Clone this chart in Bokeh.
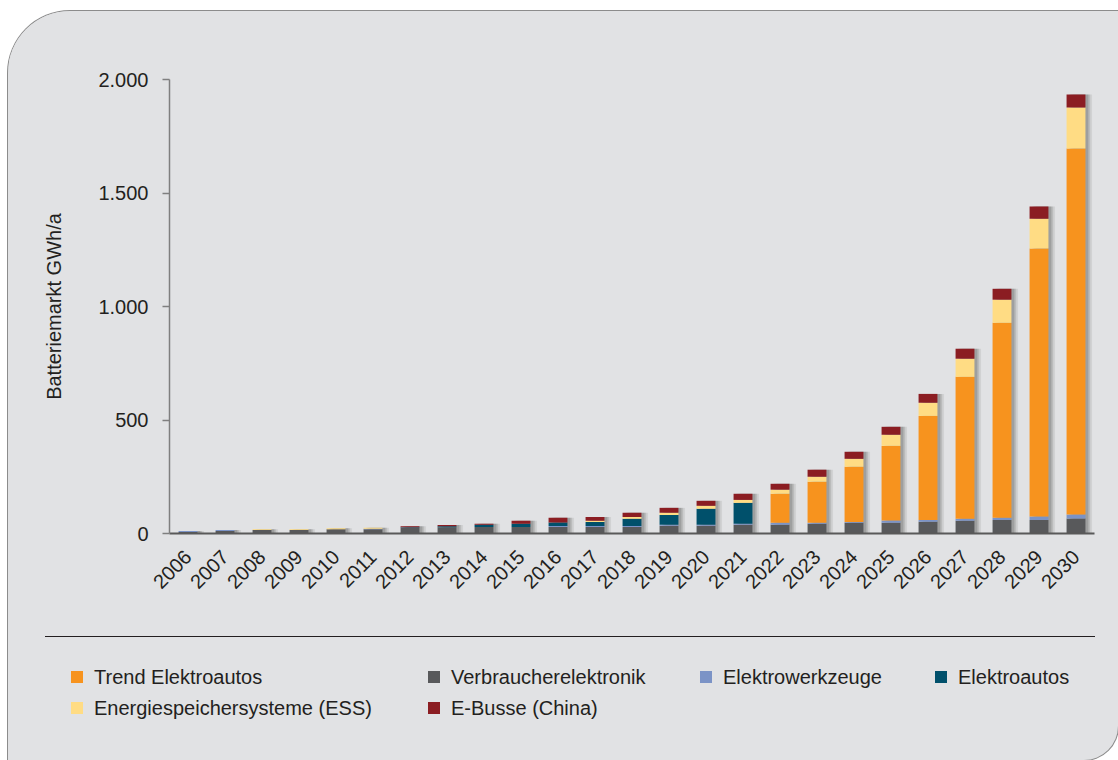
import math
from bokeh.plotting import figure
from bokeh.layouts import column
from bokeh.models import ColumnDataSource, FactorRange, Range1d, FixedTicker, Div
from bokeh.transform import dodge
from bokeh.embed import file_html
from bokeh.resources import INLINE

# ---------------- data (GWh/a) ----------------
years = [str(y) for y in range(2006, 2031)]
verbraucherelektronik = [7, 11, 15, 15, 19, 19, 25, 28, 29, 29, 29, 29, 29, 34, 34, 38, 38, 43, 47, 47, 52, 56, 60, 60, 66]
elektrowerkzeuge      = [4, 4, 0, 0, 0, 2, 0, 0, 0, 0, 4, 4, 4, 4, 4, 5, 9, 4, 4, 10, 8, 9, 9, 15, 18]
elektroautos          = [0, 0, 0, 0, 0, 0, 3, 4, 9, 14, 15, 18, 32, 44, 71, 92, 0, 0, 0, 0, 0, 0, 0, 0, 0]
trend_elektroautos    = [0, 0, 0, 0, 0, 0, 0, 0, 0, 0, 0, 0, 0, 0, 0, 0, 128, 181, 243, 329, 458, 625, 859, 1180, 1612]
ess                   = [0, 0, 4, 4, 4, 4, 0, 0, 0, 0, 0, 5, 8, 9, 13, 13, 18, 22, 35, 49, 58, 80, 102, 132, 181]
e_busse               = [0, 0, 0, 0, 0, 0, 4, 5, 5, 13, 21, 17, 18, 22, 22, 27, 26, 31, 31, 35, 39, 44, 48, 53, 57]

series_keys   = ["verbraucher", "werkzeuge", "autos", "trend", "ess", "busse"]
series_labels = ["Verbraucherelektronik", "Elektrowerkzeuge", "Elektroautos",
                 "Trend Elektroautos", "Energiespeichersysteme (ESS)", "E-Busse (China)"]
series_colors = ["#58595b", "#7b93c6", "#00506b", "#f7931e", "#ffdc84", "#8b1d22"]

y_ticks = [0, 500, 1000, 1500, 2000]
y_tick_labels = ["0", "500", "1.000", "1.500", "2.000"]
y_axis_title = "Batteriemarkt GWh/a"

# legend layout: columns of series keys
legend_columns = [["trend", "ess"], ["verbraucher", "busse"], ["werkzeuge"], ["autos"]]

# ---------------- build ----------------
totals = [sum(v) for v in zip(verbraucherelektronik, elektrowerkzeuge, elektroautos,
                              trend_elektroautos, ess, e_busse)]
source = ColumnDataSource(dict(
    years=years,
    verbraucher=verbraucherelektronik,
    werkzeuge=elektrowerkzeuge,
    autos=elektroautos,
    trend=trend_elektroautos,
    ess=ess,
    busse=e_busse,
    total=totals,
))

FONT = "Liberation Sans"
FS = "20px"
TXT = "#231f20"
PANEL = "#e1e2e4"

W = 1110
H1 = 609
H2 = 140
BL, BR, BT, BB = 161, 24, 68, 87

p = figure(width=W, height=H1, x_range=FactorRange(*years), y_range=Range1d(0, 2000),
           output_backend="svg", toolbar_location=None,
           min_border_left=BL, min_border_right=BR, min_border_top=BT, min_border_bottom=BB)
p.frame_width = W - BL - BR
p.frame_height = H1 - BT - BB
p.background_fill_color = PANEL
p.border_fill_color = PANEL
p.outline_line_color = None
p.grid.visible = False

# soft drop shadows
for off, a in [(0.18, 0.07), (0.13, 0.11), (0.08, 0.15)]:
    p.vbar(x=dodge("years", off, range=p.x_range), top="total", width=0.51, source=source,
           fill_color="black", fill_alpha=a, line_color=None)

p.vbar_stack(series_keys, x="years", width=0.51, color=series_colors, source=source,
             line_color=None)

# axes
xa = p.xaxis[0]
xa.axis_line_color = "#595959"
xa.axis_line_width = 2
xa.major_tick_line_color = None
xa.minor_tick_line_color = None
xa.major_label_orientation = math.pi / 4
xa.major_label_standoff = 14
xa.major_label_text_font = FONT
xa.major_label_text_font_size = FS
xa.major_label_text_color = TXT

ya = p.yaxis[0]
ya.ticker = FixedTicker(ticks=y_ticks)
ya.major_label_overrides = {t: l for t, l in zip(y_ticks, y_tick_labels)}
ya.axis_line_color = "#7f7f7f"
ya.axis_line_width = 1.5
ya.major_tick_line_color = "#7f7f7f"
ya.major_tick_line_width = 1.5
ya.major_tick_out = 7
ya.major_tick_in = 0
ya.minor_tick_line_color = None
ya.major_label_standoff = 14
ya.major_label_text_font = FONT
ya.major_label_text_font_size = FS
ya.major_label_text_color = TXT
ya.axis_label = y_axis_title
ya.axis_label_text_font = FONT
ya.axis_label_text_font_size = FS
ya.axis_label_text_font_style = "normal"
ya.axis_label_text_color = TXT
ya.axis_label_standoff = 30

# ---------------- legend strip (HTML) ----------------
col_x = [63, 420, 692, 927]
row_center = [57, 88]
parts = [f'<div style="position:relative;width:{W}px;height:{H2}px;font-family:\'{FONT}\',sans-serif;'
         f'font-size:{FS};color:{TXT};">',
         f'<div style="position:absolute;left:37px;top:16px;width:1050px;height:1.3px;background:{TXT};"></div>']
for keys, cx in zip(legend_columns, col_x):
    for r, k in enumerate(keys):
        i = series_keys.index(k)
        cy = row_center[r]
        parts.append(f'<div style="position:absolute;left:{cx}px;top:{cy - 6}px;width:12px;height:12px;'
                     f'background:{series_colors[i]};"></div>')
        parts.append(f'<div style="position:absolute;left:{cx + 23}px;top:{cy - 12}px;height:24px;'
                     f'line-height:24px;white-space:nowrap;">{series_labels[i]}</div>')
parts.append('</div>')
legend_div = Div(text="".join(parts), width=W, height=H2, margin=0)

layout = column(p, legend_div, spacing=0, margin=(11, 0, 0, 8),
                styles={"border-radius": "62px 0 34px 0", "overflow": "hidden",
                        "box-shadow": "0 0 0 1px #8c8c8c", "background": PANEL})

open("out.html", "w").write(file_html(layout, INLINE))
